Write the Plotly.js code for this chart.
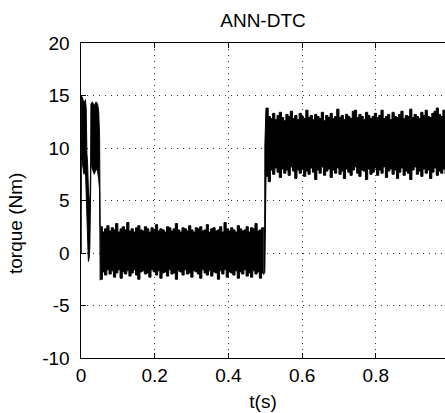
<!DOCTYPE html>
<html>
<head>
<meta charset="utf-8">
<script src="https://cdn.plot.ly/plotly-3.0.1.min.js"></script>
<style>html,body{margin:0;padding:0;background:#fff;}#chart{width:445px;height:413px;}</style>
</head>
<body>
<div id="chart"></div>
<script>
// Start-up transient (envelope)
var tTransient = [0, 0.0005, 0.004, 0.008, 0.012, 0.014, 0.016, 0.018, 0.020, 0.022, 0.024, 0.026, 0.027, 0.031, 0.036, 0.041, 0.045, 0.048, 0.0505, 0.052];
var upperTransient = [0, 15.0, 14.8, 14.2, 14.6, 13.8, 9.5, 8.5, 6.0, 5.0, 4.5, 8.0, 14.2, 14.4, 14.0, 14.4, 14.2, 13.5, 11.0, 2.5];
var lowerTransient = [0, 9.0, 8.5, 7.5, 8.0, 6.0, 5.0, 1.0, -0.8, -0.5, 0.5, 5.5, 8.5, 8.0, 7.5, 8.0, 7.8, 7.0, 6.0, -2.6];

// Band 1 (0.052 s .. 0.496 s, sample step 0.006 s): torque ripple envelope around 0 Nm
var band1Start = 0.052, band1Step = 0.006;
var upperBand1 = [2.5,2.0,2.3,2.6,2.1,2.4,2.2,2.8,2.0,2.3,
  2.5,2.2,2.9,2.1,2.3,2.0,2.4,2.6,2.2,2.1,
  2.5,2.3,2.0,2.4,2.2,2.7,2.1,2.3,2.2,2.0,
  2.5,2.4,2.1,2.3,2.8,2.2,2.0,2.4,2.3,2.1,
  2.6,2.2,2.0,2.4,2.3,2.5,2.1,2.2,2.7,2.0,
  2.3,2.4,2.1,2.2,2.5,2.0,2.9,2.3,2.1,2.4,
  2.2,2.0,2.6,2.3,2.1,2.2,2.5,2.0,2.4,2.3,
  2.8,2.1,2.2,2.4,2.3];
var lowerBand1 = [-2.5,-1.8,-2.1,-1.6,-2.0,-1.7,-2.3,-1.9,-1.6,-2.4,
  -1.8,-2.0,-1.7,-2.2,-1.9,-1.6,-2.1,-2.5,-1.8,-1.7,
  -2.0,-1.9,-2.3,-1.6,-1.8,-2.1,-1.7,-2.4,-1.9,-1.8,
  -2.2,-1.6,-2.0,-1.9,-2.5,-1.7,-1.8,-2.1,-1.6,-2.0,
  -1.9,-2.3,-1.7,-1.8,-2.0,-2.4,-1.6,-1.9,-2.1,-1.7,
  -2.2,-1.8,-1.9,-2.5,-1.7,-2.0,-1.6,-2.3,-1.8,-1.9,
  -2.1,-1.7,-2.4,-1.8,-2.0,-1.6,-2.2,-1.9,-2.3,-1.7,
  -2.0,-1.8,-2.4,-1.9,-2.1];

// Load step at 0.5 s
var tStep = [0.496, 0.4985, 0.4990, 0.5003, 0.502];
var upperStep = [2.3, 2.2, 10.4, 13.8, 13.8];
var lowerStep = [-1.9, -1.9, -1.5, 7.0, 7.3];

// Band 2 (0.502 s .. , sample step 0.006 s): torque ripple envelope around 10 Nm
var band2Start = 0.502, band2Step = 0.006;
var upperBand2 = [13.8,13.0,12.8,13.3,12.7,13.1,13.4,12.9,12.6,13.2,
  13.0,13.5,12.8,13.1,12.7,13.3,13.0,12.8,13.6,12.9,
  13.1,12.7,13.2,13.0,12.8,13.4,12.6,13.1,12.9,13.3,
  12.8,13.0,13.7,12.9,13.1,12.7,13.2,13.0,12.8,13.5,
  13.6,12.9,13.2,13.0,12.7,13.4,13.1,12.8,13.0,13.3,
  12.9,13.1,13.6,12.8,13.0,13.2,12.7,13.4,13.0,12.9,
  13.2,13.5,12.8,13.1,13.0,13.7,12.9,13.2,13.0,12.8,
  13.4,13.1,13.6,13.0,12.9,13.3,13.5,13.8,13.2,13.0,
  13.6,13.1,13.4];
var lowerBand2 = [7.3,6.8,7.9,7.5,8.1,7.7,7.2,8.0,7.6,7.9,
  7.4,8.2,7.8,7.1,7.9,7.6,8.0,7.3,7.8,7.5,
  8.1,7.7,7.0,7.9,7.6,8.2,7.4,7.8,8.0,7.2,
  7.9,7.6,8.1,7.5,7.8,7.1,8.0,7.7,7.4,7.9,
  8.2,7.6,7.3,7.9,7.8,7.0,8.0,7.5,7.7,8.1,
  7.4,7.9,7.6,8.2,7.2,7.8,8.0,7.5,7.9,7.1,
  7.7,8.1,7.4,7.8,7.6,7.0,7.9,8.2,7.5,7.8,
  7.3,8.0,7.6,7.9,7.1,7.7,8.1,7.4,7.8,7.6,
  8.0,7.5,7.9];

var xTickVals = [0, 0.2, 0.4, 0.6, 0.8];
var xTickText = ["0", "0.2", "0.4", "0.6", "0.8"];
var yTickVals = [-10, -5, 0, 5, 10, 15, 20];
var yTickText = ["-10", "-5", "0", "5", "10", "15", "20"];

var LINE = {color: '#000', width: 1};
function pair(xu, yu, xl, yl, shape) {
  var a = {type: 'scatter', mode: 'lines', y: yu, line: Object.assign({shape: shape}, LINE), hoverinfo: 'skip'};
  var b = {type: 'scatter', mode: 'lines', y: yl, line: Object.assign({shape: shape}, LINE), fill: 'tonexty', fillcolor: '#000', hoverinfo: 'skip'};
  if (Array.isArray(xu)) { a.x = xu; b.x = xl; }
  else { a.x0 = xu.x0; a.dx = xu.dx; b.x0 = xl.x0; b.dx = xl.dx; }
  return [a, b];
}

var data = [].concat(
  pair(tTransient, upperTransient, tTransient, lowerTransient, 'linear'),
  pair({x0: band1Start, dx: band1Step}, upperBand1, {x0: band1Start, dx: band1Step}, lowerBand1, 'hv'),
  pair(tStep, upperStep, tStep, lowerStep, 'linear'),
  pair({x0: band2Start, dx: band2Step}, upperBand2, {x0: band2Start, dx: band2Step}, lowerBand2, 'hv')
);

var FONT = {family: 'Liberation Sans, Arial, sans-serif', size: 19, color: '#000'};
var layout = {
  width: 445, height: 413,
  margin: {l: 81, r: 0, t: 43, b: 55, pad: 0},
  paper_bgcolor: '#fff', plot_bgcolor: '#fff',
  showlegend: false,
  font: FONT,
  title: {text: 'ANN-DTC', font: FONT, x: 0.5, xref: 'paper', xanchor: 'center', y: 1 - 20 / 413, yref: 'container', yanchor: 'middle'},
  xaxis: {
    range: [0, 364 / 368.5], tickvals: xTickVals, ticktext: xTickText,
    ticks: 'inside', ticklen: 5, tickwidth: 1, tickcolor: '#000',
    showline: true, linecolor: '#000', linewidth: 1, mirror: 'ticks',
    showgrid: true, gridcolor: '#333', gridwidth: 1, griddash: '1px,5px',
    zeroline: false, tickfont: FONT,
    title: {text: 't(s)', font: FONT, standoff: 9}
  },
  yaxis: {
    range: [-10, 20], tickvals: yTickVals, ticktext: yTickText,
    ticks: 'inside', ticklen: 5, tickwidth: 1, tickcolor: '#000',
    showline: true, linecolor: '#000', linewidth: 1.5, mirror: false,
    showgrid: true, gridcolor: '#333', gridwidth: 1, griddash: '1px,5px',
    zeroline: false, tickfont: FONT, ticklabelstandoff: 6
  },
  annotations: [{
    text: 'torque (Nm)', font: FONT, textangle: -90, showarrow: false,
    xref: 'paper', yref: 'paper', x: (15 - 81) / 364, y: (358 - 224) / 315,
    xanchor: 'center', yanchor: 'middle'
  }]
};

Plotly.newPlot('chart', data, layout, {staticPlot: true, displayModeBar: false});
</script>
</body>
</html>
